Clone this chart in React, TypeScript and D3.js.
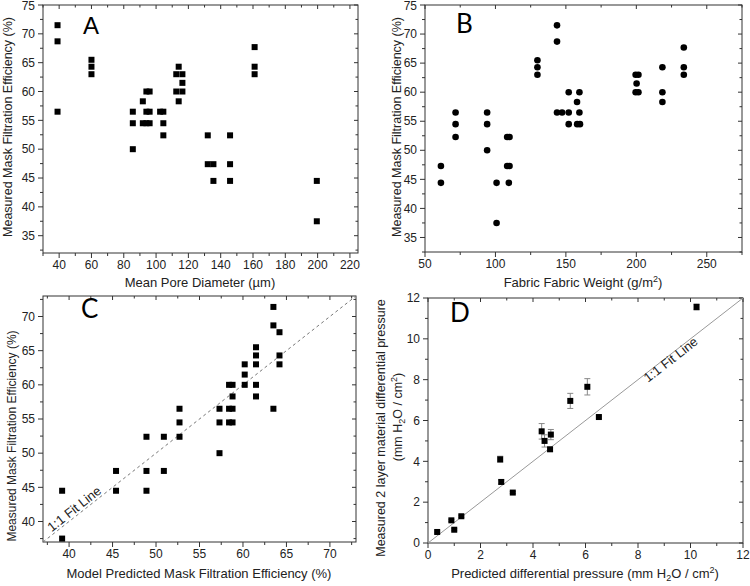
import React from "react";
import * as d3 from "d3";

// ---------- Data ----------
// Panel A: mean pore diameter (µm) vs measured efficiency (%)
const poreDiameter = [39, 39, 39, 60, 60, 60, 85.6, 85.6, 85.6, 91.8, 91.8, 94, 94, 94, 96, 96, 96, 102.5, 104.5, 104.5, 104.5, 112.5, 112.5, 114, 114, 116.3, 116.3, 116.3, 132, 132, 135.5, 135.5, 145.8, 145.8, 145.8, 161, 161, 161, 199.5, 199.5];
const poreEfficiency = [71.5, 68.7, 56.5, 65.5, 64.3, 63, 56.5, 54.5, 50, 58.3, 54.5, 60, 56.5, 54.5, 60, 56.5, 54.5, 56.5, 56.5, 54.5, 52.4, 63, 60, 64.3, 58.3, 63, 61.5, 60, 52.4, 47.4, 47.4, 44.5, 52.4, 47.4, 44.5, 67.7, 64.3, 63, 44.5, 37.5];

// Panel B: fabric weight (g/m2) vs measured efficiency (%)
const fabricWeight = [61.3, 61.3, 71.7, 71.7, 71.7, 94.1, 94.1, 94.1, 100.8, 100.8, 108.3, 110, 108.3, 110, 109.5, 129.8, 129.8, 129.8, 143.7, 143.7, 143.7, 147.3, 152, 152, 152, 157.9, 158, 160, 159.6, 159.6, 199.5, 201.5, 200.2, 199.5, 201.5, 218.5, 218.5, 218.5, 233.7, 233.7, 233.7];
const weightEfficiency = [47.3, 44.4, 56.5, 54.5, 52.3, 56.5, 54.5, 50, 44.4, 37.5, 52.3, 52.3, 47.3, 47.3, 44.4, 65.5, 64.3, 63, 71.5, 68.7, 56.5, 56.5, 60, 56.5, 54.5, 58.3, 54.5, 54.5, 60, 56.5, 63, 63, 61.5, 60, 60, 64.3, 60, 58.3, 67.7, 64.3, 63];

// Panel C: model predicted vs measured efficiency (%)
const predictedEff = [63.5, 63.5, 64.2, 64.2, 64.2, 63.5, 61.5, 61.5, 61.5, 61.5, 61.5, 60.2, 60.2, 60.2, 58.4, 58.8, 58.8, 58.4, 58.8, 58.4, 58.8, 57.3, 57.3, 57.3, 52.7, 52.7, 52.7, 50.9, 50.9, 48.9, 48.9, 48.9, 45.4, 45.4, 39.2, 39.2];
const measuredEff = [71.4, 68.7, 67.7, 64.3, 63, 56.5, 65.5, 64.3, 63, 60, 58.3, 63, 61.5, 60, 60, 60, 58.3, 56.5, 56.5, 54.5, 54.5, 56.5, 54.5, 50, 56.5, 54.5, 52.4, 52.4, 47.4, 52.4, 47.4, 44.5, 47.4, 44.5, 44.5, 37.5];

// Panel D: predicted vs measured differential pressure
const predictedDP = [0.35, 0.89, 1.0, 1.27, 2.75, 2.79, 3.23, 4.33, 4.44, 4.68, 4.65, 5.42, 6.07, 6.51, 10.23];
const measuredDP = [0.54, 1.11, 0.65, 1.31, 4.1, 2.99, 2.47, 5.47, 5.0, 5.31, 4.59, 6.96, 7.65, 6.17, 11.56];
const measuredDPErr = [0.05, 0.05, 0.05, 0.05, 0.15, 0.1, 0.05, 0.38, 0.3, 0.25, 0.1, 0.37, 0.4, 0.05, 0.15];

// Ticks
const effTicks = [35, 40, 45, 50, 55, 60, 65, 70, 75];
const poreTicks = [40, 60, 80, 100, 120, 140, 160, 180, 200, 220];
const weightTicks = [50, 100, 150, 200, 250];
const cTicks = [40, 45, 50, 55, 60, 65, 70];
const dTicks = [0, 2, 4, 6, 8, 10, 12];

const FONT = "'Liberation Sans', Arial, sans-serif";
const LETTER_FONT = "Lato, 'Open Sans', sans-serif";
const AX = "#333";
const TXT = "#222";

type Scale = d3.ScaleLinear<number, number>;

function minorTicks(domain: number[], step: number) {
  const out: number[] = [];
  const start = Math.ceil(domain[0] / step) * step;
  for (let v = start; v <= domain[1] + 1e-9; v += step) out.push(+v.toFixed(6));
  return out;
}

function Frame({ xs, ys, xTicks, yTicks, xMinorStep, yMinorStep }: { xs: Scale; ys: Scale; xTicks: number[]; yTicks: number[]; xMinorStep: number; yMinorStep: number }) {
  const [x0, x1] = xs.range();
  const [y1, y0] = ys.range();
  const xm = minorTicks(xs.domain(), xMinorStep).filter((v) => !xTicks.includes(v));
  const ym = minorTicks(ys.domain(), yMinorStep).filter((v) => !yTicks.includes(v));
  return (
    <g>
      <rect x={x0} y={y0} width={x1 - x0} height={y1 - y0} fill="none" stroke={AX} strokeWidth={1} />
      {xTicks.map((t) => (
        <g key={"xt" + t}>
          <line x1={xs(t)} x2={xs(t)} y1={y1} y2={y1 + 5} stroke={AX} />
          <line x1={xs(t)} x2={xs(t)} y1={y0} y2={y0 + 4} stroke={AX} />
          <text x={xs(t)} y={y1 + 16} textAnchor="middle" fontSize={12} fill={TXT} fontFamily={FONT}>{t}</text>
        </g>
      ))}
      {xm.map((t) => (
        <g key={"xm" + t}>
          <line x1={xs(t)} x2={xs(t)} y1={y1} y2={y1 + 3} stroke={AX} />
          <line x1={xs(t)} x2={xs(t)} y1={y0} y2={y0 + 2.5} stroke={AX} />
        </g>
      ))}
      {yTicks.map((t) => (
        <g key={"yt" + t}>
          <line x1={x0 - 5} x2={x0} y1={ys(t)} y2={ys(t)} stroke={AX} />
          <line x1={x1 - 4} x2={x1} y1={ys(t)} y2={ys(t)} stroke={AX} />
          <text x={x0 - 8} y={Math.max(ys(t), 6)} dy="0.35em" textAnchor="end" fontSize={12} fill={TXT} fontFamily={FONT}>{t}</text>
        </g>
      ))}
      {ym.map((t) => (
        <g key={"ym" + t}>
          <line x1={x0 - 3} x2={x0} y1={ys(t)} y2={ys(t)} stroke={AX} />
          <line x1={x1 - 2.5} x2={x1} y1={ys(t)} y2={ys(t)} stroke={AX} />
        </g>
      ))}
    </g>
  );
}

function Squares({ xs, ys, xv, yv, size = 6 }: { xs: Scale; ys: Scale; xv: number[]; yv: number[]; size?: number }) {
  return (
    <g>
      {xv.map((v, i) => (
        <rect key={i} x={xs(v) - size / 2} y={ys(yv[i]) - size / 2} width={size} height={size} fill="#000" />
      ))}
    </g>
  );
}

function YTitle({ cx, cy, children, size = 12.5 }: { cx: number; cy: number; children: React.ReactNode; size?: number }) {
  return (
    <text transform={`translate(${cx},${cy}) rotate(-90)`} textAnchor="middle" dy="0.35em" fontSize={size} fill={TXT} fontFamily={FONT}>
      {children}
    </text>
  );
}

export default function App() {
  // Panel A
  const xa = d3.scaleLinear().domain([30, 225]).range([43, 358]);
  const ya = d3.scaleLinear().domain([32, 75]).range([253, 5]);
  // Panel B
  const xb = d3.scaleLinear().domain([50, 275]).range([425, 742]);
  const yb = d3.scaleLinear().domain([32.5, 75]).range([252, 5]);
  // Panel C
  const xc = d3.scaleLinear().domain([37, 73]).range([43, 356]);
  const yc = d3.scaleLinear().domain([37, 73]).range([542, 296]);
  // Panel D
  const xd = d3.scaleLinear().domain([0, 12]).range([428, 743]);
  const yd = d3.scaleLinear().domain([0, 12]).range([543, 298]);

  const cAngle = (Math.atan2(yc(37) - yc(73), xc(73) - xc(37)) * 180) / Math.PI;
  const dAngle = (Math.atan2(yd(0) - yd(12), xd(12) - xd(0)) * 180) / Math.PI;

  return (
    <svg width={750} height={586} style={{ position: "absolute", left: 0, top: 0, background: "#fff" }}>
      <rect width={750} height={586} fill="#fff" />

      {/* Panel A */}
      <Frame xs={xa} ys={ya} xTicks={poreTicks} yTicks={effTicks} xMinorStep={10} yMinorStep={2.5} />
      <Squares xs={xa} ys={ya} xv={poreDiameter} yv={poreEfficiency} />
      <text x={83} y={34} fontSize={24} fontFamily={FONT} fill="#000">A</text>
      <text x={200} y={287} textAnchor="middle" fontSize={13} fill={TXT} fontFamily={FONT}>Mean Pore Diameter (µm)</text>
      <YTitle cx={8} cy={127}>Measured Mask Filtration Efficiency (%)</YTitle>

      {/* Panel B */}
      <Frame xs={xb} ys={yb} xTicks={weightTicks} yTicks={effTicks} xMinorStep={25} yMinorStep={2.5} />
      <g>
        {fabricWeight.map((v, i) => (
          <circle key={i} cx={xb(v)} cy={yb(weightEfficiency[i])} r={3.3} fill="#000" />
        ))}
      </g>
      <text x={456} y={33} fontSize={26} fontFamily={LETTER_FONT} fill="#000">B</text>
      <text x={583} y={287} textAnchor="middle" fontSize={13} fill={TXT} fontFamily={FONT}>
        Fabric Fabric Weight (g/m<tspan dy={-5} fontSize={9}>2</tspan><tspan dy={5}>)</tspan>
      </text>
      <YTitle cx={397} cy={127}>Measured Mask Filtration Efficiency (%)</YTitle>

      {/* Panel C */}
      <Frame xs={xc} ys={yc} xTicks={cTicks} yTicks={[40, 45, 50, 55, 60, 65, 70]} xMinorStep={2.5} yMinorStep={2.5} />
      <line x1={xc(37)} y1={yc(37)} x2={xc(73)} y2={yc(73)} stroke="#777" strokeWidth={1} strokeDasharray="3,3" />
      <Squares xs={xc} ys={yc} xv={predictedEff} yv={measuredEff} />
      <text
        transform={`translate(${xc(40.9)},${yc(40.9) - 3}) rotate(${-cAngle})`}
        textAnchor="middle"
        fontSize={13}
        fill={TXT}
        fontFamily={FONT}
      >
        1:1 Fit Line
      </text>
      <text x={81} y={318} fontSize={26} fontFamily={LETTER_FONT} fill="#000">C</text>
      <text x={199} y={578} textAnchor="middle" fontSize={13} fill={TXT} fontFamily={FONT}>Model Predicted Mask Filtration Efficiency (%)</text>
      <YTitle cx={12} cy={436} size={12}>Measured Mask Filtration Efficiency (%)</YTitle>

      {/* Panel D */}
      <Frame xs={xd} ys={yd} xTicks={dTicks} yTicks={dTicks} xMinorStep={1} yMinorStep={1} />
      <line x1={xd(0)} y1={yd(0)} x2={xd(12)} y2={yd(12)} stroke="#999" strokeWidth={1} />
      <g>
        {predictedDP.map((v, i) => {
          const cx = xd(v);
          const top = yd(measuredDP[i] + measuredDPErr[i]);
          const bot = yd(measuredDP[i] - measuredDPErr[i]);
          return (
            <g key={i} stroke="#888" strokeWidth={1}>
              <line x1={cx} x2={cx} y1={top} y2={bot} />
              <line x1={cx - 3} x2={cx + 3} y1={top} y2={top} />
              <line x1={cx - 3} x2={cx + 3} y1={bot} y2={bot} />
            </g>
          );
        })}
      </g>
      <Squares xs={xd} ys={yd} xv={predictedDP} yv={measuredDP} />
      <text
        transform={`translate(${xd(9.35)},${yd(9.35) + 11}) rotate(${-dAngle})`}
        textAnchor="middle"
        fontSize={13}
        fill={TXT}
        fontFamily={FONT}
      >
        1:1 Fit Line
      </text>
      <text x={450} y={322} fontSize={26} fontFamily={LETTER_FONT} fill="#000">D</text>
      <text x={585} y={578} textAnchor="middle" fontSize={13} fill={TXT} fontFamily={FONT}>
        Predicted differential pressure (mm H<tspan dy={3} fontSize={9}>2</tspan><tspan dy={-3}>O / cm</tspan><tspan dy={-5} fontSize={9}>2</tspan><tspan dy={5}>)</tspan>
      </text>
      <YTitle cx={381} cy={428}>Measured 2 layer material differential pressure</YTitle>
      <YTitle cx={398} cy={417}>
        (mm H<tspan dy={3} fontSize={9}>2</tspan><tspan dy={-3}>O / cm</tspan><tspan dy={-5} fontSize={9}>2</tspan><tspan dy={5}>)</tspan>
      </YTitle>
    </svg>
  );
}
